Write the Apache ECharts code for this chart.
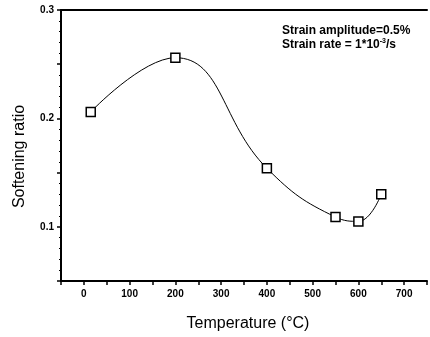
<!DOCTYPE html>
<html>
<head>
<meta charset="utf-8">
<script src="https://cdn.jsdelivr.net/npm/echarts@6/dist/echarts.min.js"></script>
<style>
html,body{margin:0;padding:0;background:#fff;}
#chart{width:430px;height:337px;}
</style>
</head>
<body>
<div id="chart"></div>
<script>
const temperatures = [15, 200, 400, 550, 600, 650];
const softeningRatio = [0.206, 0.256, 0.154, 0.109, 0.105, 0.130];
const xTickLabels = [0, 100, 200, 300, 400, 500, 600, 700];
const yTickLabels = [0.1, 0.2, 0.3];

const chart = echarts.init(document.getElementById('chart'), null, {renderer: 'canvas'});
const FONT = '"Liberation Sans", Arial, sans-serif';

const option = {
  animation: false,
  backgroundColor: '#fff',
  grid: {left: 61, top: 10, right: 0, bottom: 54, containLabel: false},
  xAxis: [{
    type: 'value', min: -50, max: 750, interval: 50,
    name: 'Temperature (°C)', nameLocation: 'middle', nameGap: 35,
    nameTextStyle: {fontFamily: FONT, fontSize: 16, color: '#000', padding: [0, 0, 0, 8]},
    axisLine: {show: true, onZero: false, lineStyle: {color: '#000', width: 2}},
    axisTick: {show: true, length: 4, lineStyle: {color: '#000', width: 1.5}},
    axisLabel: {
      fontFamily: FONT, fontSize: 10, fontWeight: 'bold', color: '#000', margin: 8,
      formatter: v => xTickLabels.indexOf(v) >= 0 ? String(v) : ''
    },
    splitLine: {show: false}
  }, {
    type: 'value', min: -50, max: 750, position: 'top',
    axisLine: {show: true, onZero: false, lineStyle: {color: '#000', width: 2}},
    axisTick: {show: false}, axisLabel: {show: false}, splitLine: {show: false}
  }],
  yAxis: {
    type: 'value', min: 0.05, max: 0.3, interval: 0.05,
    name: 'Softening ratio', nameLocation: 'middle', nameGap: 33, nameRotate: 90,
    nameTextStyle: {fontFamily: FONT, fontSize: 16, color: '#000', padding: [0, 22, 0, 0]},
    axisLine: {show: true, onZero: false, lineStyle: {color: '#000', width: 2}},
    axisTick: {show: true, length: 4, lineStyle: {color: '#000', width: 1.5}},
    minorTick: {show: true, splitNumber: 5, length: 2, lineStyle: {color: '#000'}},
    axisLabel: {
      fontFamily: FONT, fontSize: 10, fontWeight: 'bold', color: '#000', margin: 7,
      formatter: v => {
        const r = Math.round(v * 100) / 100;
        return yTickLabels.indexOf(r) >= 0 ? r.toFixed(1) : '';
      }
    },
    splitLine: {show: false}
  },
  series: [{
    type: 'line',
    data: temperatures.map((t, i) => [t, softeningRatio[i]]),
    smooth: 0.45,
    lineStyle: {color: '#000', width: 1},
    symbol: 'rect', symbolSize: 9,
    itemStyle: {color: '#fff', borderColor: '#000', borderWidth: 1.5},
    z: 3
  }],
  graphic: [{
    type: 'text', left: 282, top: 24,
    style: {
      text: 'Strain amplitude=0.5%\n{n|Strain rate = 1*10}{s|-3}{n|/s}',
      fontFamily: FONT, fontSize: 12, fontWeight: 'bold', fill: '#000', lineHeight: 14,
      rich: {
        n: {fontFamily: FONT, fontSize: 12, fontWeight: 'bold', fill: '#000', lineHeight: 14},
        s: {fontFamily: FONT, fontSize: 7, fontWeight: 'bold', fill: '#000', verticalAlign: 'top', lineHeight: 14, padding: [0, 0, 5, 0]}
      }
    }
  }]
};
chart.setOption(option);
</script>
</body>
</html>
